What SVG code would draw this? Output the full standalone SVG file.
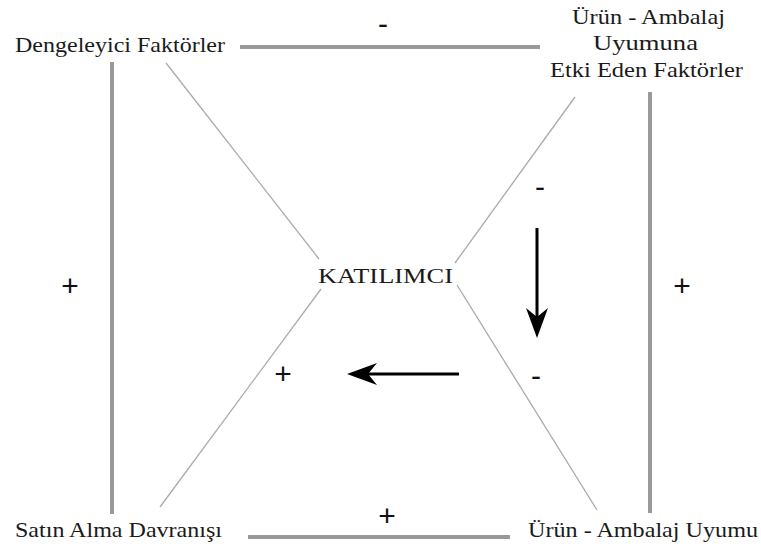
<svg xmlns="http://www.w3.org/2000/svg" width="761" height="552" viewBox="0 0 761 552">
<defs>
<style>
.t{font-family:Liberation Serif,DejaVu Serif,serif;font-size:22px;fill:#1a1a1a}
.s{font-family:Liberation Sans,Arial,sans-serif;font-size:30px;fill:#111}
.thick{stroke:#999;stroke-width:4;fill:none}
.thin{stroke:#aaa;stroke-width:1.3;fill:none}
.arr{stroke:#000;stroke-width:3;fill:none}
</style>
<marker id="ah" viewBox="0 0 30 22" refX="22" refY="11" markerWidth="30" markerHeight="22" markerUnits="userSpaceOnUse" orient="auto">
<path d="M0,0 L30,11 L0,22 L9,11 Z" fill="#000"/>
</marker>
</defs>
<rect width="761" height="552" fill="#fff"/>
<g id="connectors">
<line class="thick" x1="240" y1="47" x2="540" y2="47"/>
<line class="thick" x1="112" y1="62" x2="112" y2="514"/>
<line class="thick" x1="650" y1="92" x2="650" y2="513"/>
<line class="thick" x1="248" y1="537" x2="510" y2="537"/>
<line class="thin" x1="166" y1="63" x2="319" y2="259"/>
<line class="thin" x1="321" y1="289" x2="160" y2="507"/>
<line class="thin" x1="575" y1="97" x2="455" y2="263"/>
<line class="thin" x1="457" y1="285" x2="597" y2="510"/>
<line class="arr" x1="537" y1="228" x2="537" y2="330" marker-end="url(#ah)"/>
<line class="arr" x1="459" y1="374" x2="355" y2="374" marker-end="url(#ah)"/>
</g>
<g id="n-dengeleyici"><text class="t" font-family="Liberation Serif, serif" x="15" y="52" textLength="210" lengthAdjust="spacingAndGlyphs">Dengeleyici Faktörler</text></g>
<g id="n-etki">
<text class="t" font-family="Liberation Serif, serif" x="572" y="24" textLength="153" lengthAdjust="spacingAndGlyphs">Ürün - Ambalaj</text>
<text class="t" font-family="Liberation Serif, serif" x="593" y="50" textLength="105" lengthAdjust="spacingAndGlyphs">Uyumuna</text>
<text class="t" font-family="Liberation Serif, serif" x="550" y="77" textLength="193" lengthAdjust="spacingAndGlyphs">Etki Eden Faktörler</text>
</g>
<g id="n-katilimci"><text class="t" font-family="Liberation Serif, serif" x="318" y="283" textLength="135" lengthAdjust="spacingAndGlyphs">KATILIMCI</text></g>
<g id="n-satin"><text class="t" font-family="Liberation Serif, serif" x="15" y="537" textLength="207" lengthAdjust="spacingAndGlyphs">Satın Alma Davranışı</text></g>
<g id="n-uyum"><text class="t" font-family="Liberation Serif, serif" x="528" y="537" textLength="230" lengthAdjust="spacingAndGlyphs">Ürün - Ambalaj Uyumu</text></g>
<g id="signs">
<text class="s" x="383" y="34" text-anchor="middle">-</text>
<text class="s" x="70" y="296" text-anchor="middle">+</text>
<text class="s" x="682" y="296" text-anchor="middle">+</text>
<text class="s" x="540" y="197" text-anchor="middle">-</text>
<text class="s" x="536" y="386" text-anchor="middle">-</text>
<text class="s" x="283" y="384" text-anchor="middle">+</text>
<text class="s" x="387" y="526" text-anchor="middle">+</text>
</g>
</svg>
